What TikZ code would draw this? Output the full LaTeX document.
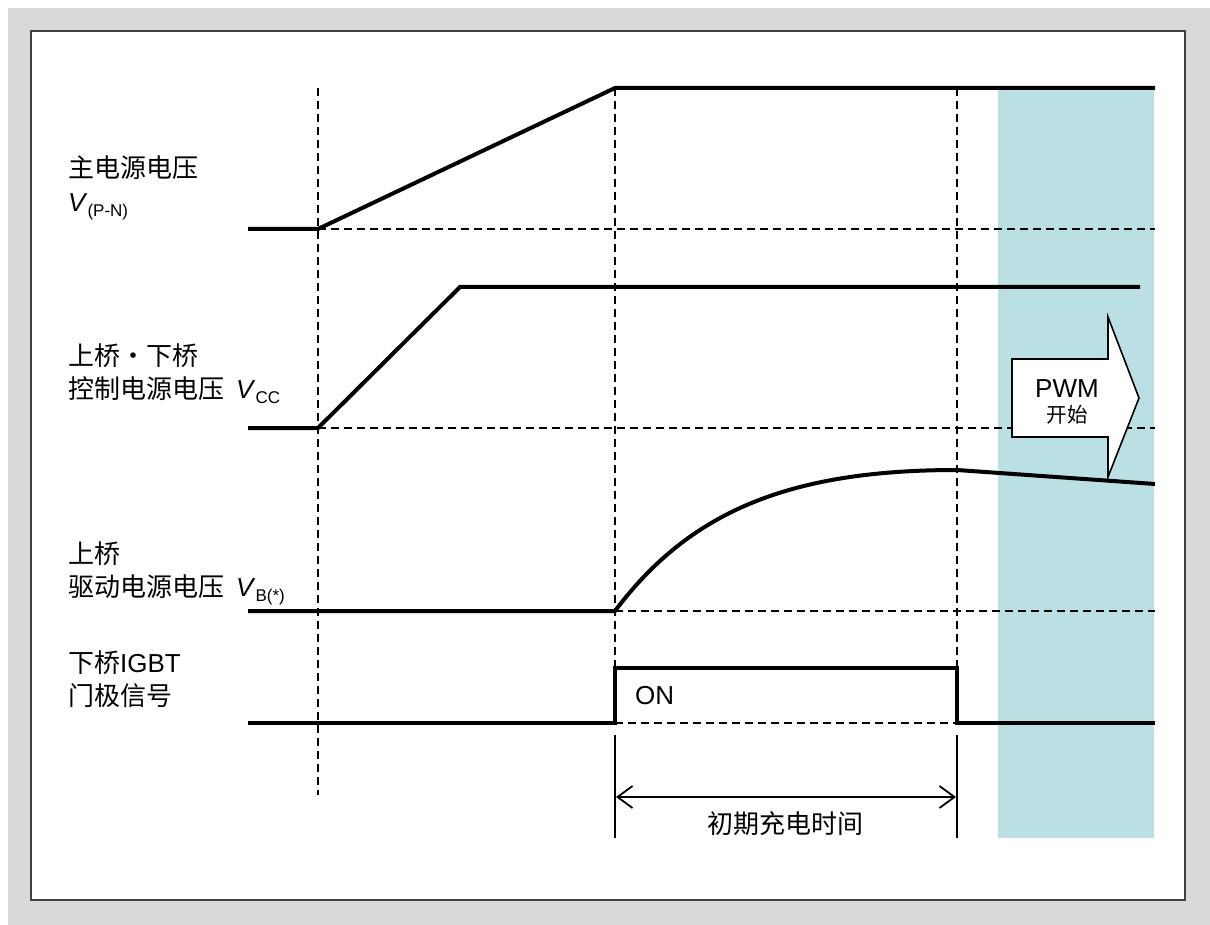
\documentclass[tikz,border=0pt]{standalone}
\usepackage{fontspec}
\setmainfont{Liberation Sans}
\newfontfamily\cjk{Noto Sans CJK SC}
\usetikzlibrary{arrows.meta}
\definecolor{bggray}{HTML}{D9D9D9}
\definecolor{framegray}{HTML}{404040}
\definecolor{pwmcyan}{HTML}{BAE0E3}
\newcommand\Vsb[1]{\textit{V}\raisebox{-5pt}{\fontsize{17}{17}\selectfont #1}}
\tikzset{
  sig/.style={line width=4pt, line cap=butt, line join=miter},
  guide/.style={line width=1.7pt, dash pattern=on 8pt off 5pt},
  extline/.style={line width=1.2pt},
  lbl/.style={anchor=base west, inner sep=0pt, font=\fontsize{26}{30}\selectfont},
  ctr/.style={anchor=base, inner sep=0pt, font=\fontsize{26}{30}\selectfont},
}
\begin{document}
\begin{tikzpicture}[x=1pt,y=-1pt]
\useasboundingbox (0,0) rectangle (1210,925);
% background and frame
\fill[bggray] (8,8) rectangle (1210,925);
\draw[framegray, fill=white, line width=1.5pt] (31,31) rectangle (1185,900);
\fill[pwmcyan] (998,88) rectangle (1154,838);

% key coordinates
\coordinate (t0) at (318,88);
\coordinate (t0b) at (318,795);
\coordinate (t1) at (615,88);
\coordinate (t1m) at (615,723);
\coordinate (t1e) at (615,735);
\coordinate (t1b) at (615,838);
\coordinate (t2) at (957,88);
\coordinate (t2m) at (957,723);
\coordinate (t2e) at (957,735);
\coordinate (t2b) at (957,838);

% vertical guides
\draw[guide] (t0) -- (t0b);
\draw[guide] (t1) -- (t1m);
\draw[guide] (t2) -- (t2m);
\draw[extline] (t1e) -- (t1b);
\draw[extline] (t2e) -- (t2b);

% baselines (dashed)
\coordinate (b1s) at (318,229); \coordinate (b1e) at (1155,229);
\coordinate (b2s) at (318,428); \coordinate (b2e) at (1155,428);
\coordinate (b3s) at (615,611); \coordinate (b3e) at (1155,611);
\coordinate (b4s) at (615,723); \coordinate (b4e) at (957,723);
\draw[guide] (b1s) -- (b1e);
\draw[guide] (b2s) -- (b2e);
\draw[guide] (b3s) -- (b3e);
\draw[guide] (b4s) -- (b4e);

% signal 1: main supply
\coordinate (s1a) at (248,229);
\coordinate (s1c) at (615,88);
\coordinate (s1d) at (1155,88);
\draw[sig] (s1a) -- (b1s) -- (s1c) -- (s1d);

% signal 2: Vcc
\coordinate (s2a) at (248,428);
\coordinate (s2c) at (460,287);
\coordinate (s2d) at (1140,287);
\draw[sig] (s2a) -- (b2s) -- (s2c) -- (s2d);

% signal 3: VB
\coordinate (s3a) at (248,611);
\coordinate (s3p) at (957,470);
\coordinate (s3d) at (1155,484);
\draw[sig] (s3a) -- (b3s) .. controls (690,511) and (790,470) .. (s3p) -- (s3d);

% signal 4: gate
\coordinate (s4a) at (248,723);
\coordinate (s4b) at (615,668);
\coordinate (s4c) at (957,668);
\coordinate (s4d) at (1155,723);
\draw[sig] (s4a) -- (b4s) -- (s4b) -- (s4c) -- (b4e) -- (s4d);

% dimension arrow
\coordinate (d1) at (616,797);
\coordinate (d2) at (956,797);
\draw[line width=1.8pt, {Straight Barb[length=15pt,width=22pt,line width=1.8pt]}-{Straight Barb[length=15pt,width=22pt,line width=1.8pt]}] (d1) -- (d2);
\node[ctr] (tdim) at (785,833) {\cjk 初期充电时间};

% PWM arrow
\draw[line width=1.6pt, fill=white, line join=miter]
  (1012,359) -- (1108,359) -- (1108,317) -- (1139,398) -- (1108,477) -- (1108,437) -- (1012,437) -- cycle;
\node[ctr] (pwm) at (1067,397) {PWM};
\node[anchor=base, inner sep=0pt, font=\fontsize{20.5}{24}\selectfont] (pwms) at (1067,422) {\cjk 开始};

% labels
\node[lbl] (l1a) at (68,178) {\cjk 主电源电压};
\node[lbl] (l1b) at (68,212) {\Vsb{(P-N)}};
\node[lbl] (l2a) at (68,365) {\cjk 上桥・下桥};
\node[lbl] (l2b) at (68,398) {{\cjk 控制电源电压}\hspace{12pt}\Vsb{CC}};
\node[lbl] (l3a) at (68,563) {\cjk 上桥};
\node[lbl] (l3b) at (68,596) {{\cjk 驱动电源电压}\hspace{12pt}\Vsb{B(*)}};
\node[lbl] (l4a) at (68,672) {{\cjk 下桥}IGBT};
\node[lbl] (l4b) at (68,705) {\cjk 门极信号};
\node[lbl] (on) at (635,704) {ON};
\end{tikzpicture}
\end{document}
